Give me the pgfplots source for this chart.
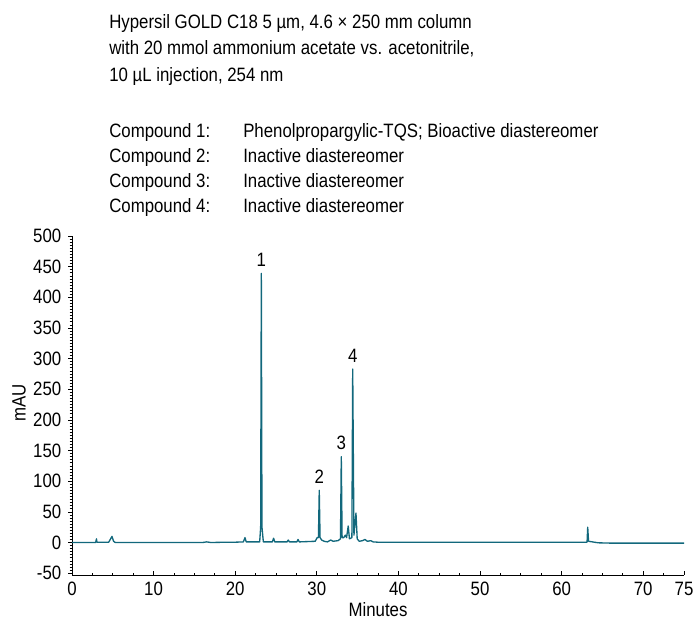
\documentclass[border=0pt]{standalone}
\usepackage{fontspec}
\setmainfont{Liberation Sans}[FakeStretch=0.87]
\usepackage{pgfplots}
\pgfplotsset{compat=1.18}
\definecolor{trace}{RGB}{18,104,124}

\begin{document}
\begin{tikzpicture}
\fontsize{14.5}{18}\selectfont
\path[use as bounding box] (0,0) rectangle (521.25pt,467.25pt);

% header text
\node[anchor=base west, inner sep=0] at (81.75pt,445.5pt) {Hypersil GOLD C18 5 µm, 4.6 × 250 mm column};
\node[anchor=base west, inner sep=0] at (81.75pt,426pt) {with 20 mmol ammonium acetate vs. acetonitrile,};
\node[anchor=base west, inner sep=0] at (81.75pt,405.75pt) {10 µL injection, 254 nm};

\node[anchor=base west, inner sep=0] at (81.75pt,363.75pt) {Compound 1:};
\node[anchor=base west, inner sep=0] at (81.75pt,345pt) {Compound 2:};
\node[anchor=base west, inner sep=0] at (81.75pt,326.25pt) {Compound 3:};
\node[anchor=base west, inner sep=0] at (81.75pt,307.5pt) {Compound 4:};
\node[anchor=base west, inner sep=0] at (182.25pt,363.75pt) {Phenolpropargylic-TQS; Bioactive diastereomer};
\node[anchor=base west, inner sep=0] at (182.25pt,345pt) {Inactive diastereomer};
\node[anchor=base west, inner sep=0] at (182.25pt,326.25pt) {Inactive diastereomer};
\node[anchor=base west, inner sep=0] at (182.25pt,307.5pt) {Inactive diastereomer};

\begin{axis}[
    at={(54pt,36pt)},
    anchor=south west,
    scale only axis,
    width=459pt,
    height=254.25pt,
    xmin=0, xmax=75,
    ymin=-53, ymax=500,
    axis lines=left,
    axis line style={-, black, line width=0.6pt},
    xtick={0,10,20,30,40,50,60,70,75},
    minor xtick={2.5,5,...,72.5},
    ytick={-50,0,50,...,500},
    minor y tick num=9,
    xtick align=inside,
    ytick align=outside,
    major tick length=3pt,
    minor tick length=1.8pt,
    tick style={black, line width=0.5pt},
    tick label style={font=\fontsize{14.5}{18}\selectfont},
    /pgf/number format/assume math mode=true,
    clip=false,
]
% chromatogram trace
\addplot[trace, line width=1pt, line join=round] coordinates {
 (0,0) (2.9,0) (3.0,6) (3.05,1) (3.1,0.5) (4.5,0.5) (4.9,10) (5.1,2) (5.3,0)
 (16,0) (16.5,1) (17,0) (19,0.5) (20,0.5) (21.0,1) (21.2,8) (21.35,1)
 (23.0,1) (23.12,25) (23.2,439) (23.28,25) (23.45,1) (24.55,1) (24.7,7) (24.85,1)
 (26.35,1) (26.5,4) (26.65,1) (27.55,1) (27.7,5) (27.85,1) (29.8,2) (30.05,8)
 (30.2,8) (30.3,85) (30.4,8) (30.6,4) (30.9,2) (31.3,1) (31.7,4) (32.0,2)
 (32.6,3) (32.9,6) (33.0,140) (33.1,8) (33.3,8) (33.5,12) (33.65,8)
 (33.85,27) (34.0,6) (34.3,8) (34.4,283) (34.55,12) (34.8,48) (34.95,6)
 (35.2,2) (35.6,3) (35.9,5) (36.2,2) (36.6,3) (36.9,1) (37.5,0.5) (40,0.5)
 (63.12,0.5) (63.2,25) (63.3,2) (64.5,-0.5) (66,-1) (75,-1)
};
\node[anchor=south, inner sep=2pt] at (axis cs:23.2,445) {1};
\node[anchor=south, inner sep=2pt] at (axis cs:30.3,91) {2};
\node[anchor=south, inner sep=2pt] at (axis cs:33.0,146) {3};
\node[anchor=south, inner sep=2pt] at (axis cs:34.4,289) {4};
\end{axis}

\node[anchor=base] at (283.5pt,4.5pt) {Minutes};
\node[rotate=90, anchor=center] at (14.25pt,165pt) {mAU};
\end{tikzpicture}
\end{document}
